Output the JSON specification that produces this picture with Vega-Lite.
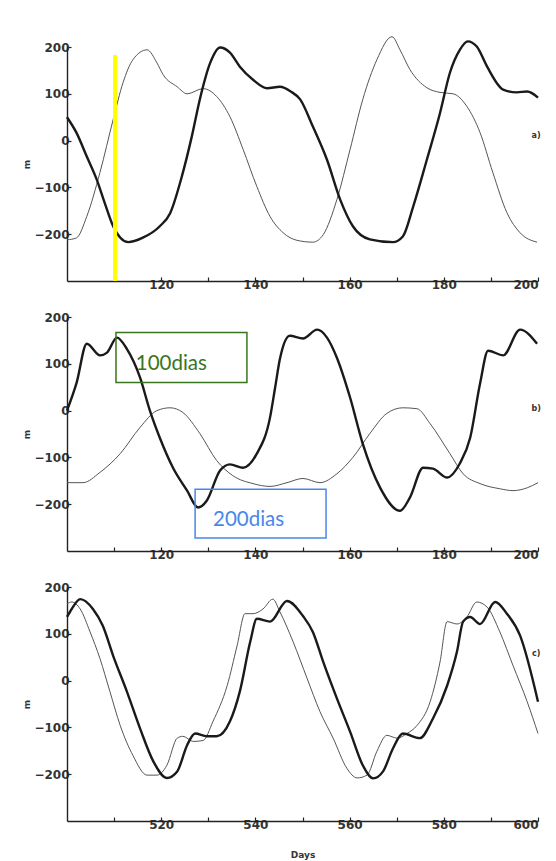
{
  "$schema": "https://vega.github.io/schema/vega-lite/v6.json",
  "padding": {"left": 22, "top": 34, "right": 5, "bottom": 5},
  "background": "white",
  "config": {
    "view": {"stroke": null},
    "axis": {
      "grid": false,
      "domainColor": "#222",
      "domainWidth": 1.4,
      "tickColor": "#222",
      "tickWidth": 1.2,
      "tickSize": -4,
      "labelFont": "DejaVu Sans",
      "labelFontWeight": "bold",
      "labelFontSize": 12,
      "labelColor": "#333",
      "titleFont": "DejaVu Sans",
      "titleFontWeight": "bold",
      "titleFontSize": 9,
      "titleColor": "#333"
    }
  },
  "datasets": {
    "curves": [
      {"panel":"a","series":"thick","day":100,"m":50},{"panel":"a","series":"thick","day":102,"m":17},{"panel":"a","series":"thick","day":104.2,"m":-34},{"panel":"a","series":"thick","day":106.3,"m":-83},{"panel":"a","series":"thick","day":108,"m":-133},{"panel":"a","series":"thick","day":109.8,"m":-183},{"panel":"a","series":"thick","day":113,"m":-217},{"panel":"a","series":"thick","day":116,"m":-208},{"panel":"a","series":"thick","day":119.7,"m":-183},{"panel":"a","series":"thick","day":121.9,"m":-155},{"panel":"a","series":"thick","day":124.4,"m":-76},{"panel":"a","series":"thick","day":126.5,"m":9},{"panel":"a","series":"thick","day":128.2,"m":88},{"panel":"a","series":"thick","day":130.4,"m":166},{"panel":"a","series":"thick","day":132.5,"m":199},{"panel":"a","series":"thick","day":134.6,"m":188},{"panel":"a","series":"thick","day":136.7,"m":158},{"panel":"a","series":"thick","day":139.5,"m":130},{"panel":"a","series":"thick","day":142.5,"m":112},{"panel":"a","series":"thick","day":145.2,"m":115},{"panel":"a","series":"thick","day":147.5,"m":105},{"panel":"a","series":"thick","day":149.5,"m":88},{"panel":"a","series":"thick","day":152.2,"m":30},{"panel":"a","series":"thick","day":155.2,"m":-41},{"panel":"a","series":"thick","day":158,"m":-126},{"panel":"a","series":"thick","day":160.7,"m":-183},{"panel":"a","series":"thick","day":164.3,"m":-211},{"panel":"a","series":"thick","day":169.2,"m":-217},{"panel":"a","series":"thick","day":171.3,"m":-205},{"panel":"a","series":"thick","day":173.5,"m":-141},{"panel":"a","series":"thick","day":176.4,"m":-41},{"panel":"a","series":"thick","day":179.2,"m":59},{"panel":"a","series":"thick","day":181.3,"m":145},{"panel":"a","series":"thick","day":183.4,"m":194},{"panel":"a","series":"thick","day":185.1,"m":212},{"panel":"a","series":"thick","day":187,"m":201},{"panel":"a","series":"thick","day":189.2,"m":158},{"panel":"a","series":"thick","day":192.6,"m":109},{"panel":"a","series":"thick","day":195.5,"m":103},{"panel":"a","series":"thick","day":197.7,"m":105},{"panel":"a","series":"thick","day":200,"m":92},
      {"panel":"a","series":"thin","day":100,"m":-212},{"panel":"a","series":"thin","day":102,"m":-208},{"panel":"a","series":"thin","day":104.2,"m":-162},{"panel":"a","series":"thin","day":107,"m":-68},{"panel":"a","series":"thin","day":109.8,"m":45},{"panel":"a","series":"thin","day":111.9,"m":124},{"panel":"a","series":"thin","day":114,"m":173},{"panel":"a","series":"thin","day":117,"m":194},{"panel":"a","series":"thin","day":119.1,"m":166},{"panel":"a","series":"thin","day":120.4,"m":141},{"panel":"a","series":"thin","day":123.4,"m":115},{"panel":"a","series":"thin","day":125.5,"m":100},{"panel":"a","series":"thin","day":128.9,"m":111},{"panel":"a","series":"thin","day":131.8,"m":94},{"panel":"a","series":"thin","day":134.6,"m":51},{"panel":"a","series":"thin","day":137.4,"m":-19},{"panel":"a","series":"thin","day":140.3,"m":-98},{"panel":"a","series":"thin","day":143.1,"m":-162},{"panel":"a","series":"thin","day":145.9,"m":-197},{"panel":"a","series":"thin","day":148.8,"m":-213},{"panel":"a","series":"thin","day":152.2,"m":-217},{"panel":"a","series":"thin","day":154.4,"m":-201},{"panel":"a","series":"thin","day":157.3,"m":-126},{"panel":"a","series":"thin","day":160.1,"m":-19},{"panel":"a","series":"thin","day":162.8,"m":88},{"panel":"a","series":"thin","day":165.8,"m":173},{"panel":"a","series":"thin","day":169,"m":222},{"panel":"a","series":"thin","day":170.7,"m":194},{"panel":"a","series":"thin","day":172.8,"m":152},{"panel":"a","series":"thin","day":176.4,"m":113},{"panel":"a","series":"thin","day":179.2,"m":103},{"panel":"a","series":"thin","day":182,"m":100},{"panel":"a","series":"thin","day":184.9,"m":73},{"panel":"a","series":"thin","day":187.7,"m":17},{"panel":"a","series":"thin","day":190.4,"m":-68},{"panel":"a","series":"thin","day":193.4,"m":-154},{"panel":"a","series":"thin","day":196.2,"m":-197},{"panel":"a","series":"thin","day":199.8,"m":-217},
      {"panel":"b","series":"thick","day":100,"m":0},{"panel":"b","series":"thick","day":102,"m":58},{"panel":"b","series":"thick","day":104.2,"m":143},{"panel":"b","series":"thick","day":107,"m":118},{"panel":"b","series":"thick","day":108.5,"m":124},{"panel":"b","series":"thick","day":110.6,"m":156},{"panel":"b","series":"thick","day":112.7,"m":132},{"panel":"b","series":"thick","day":115.5,"m":71},{"panel":"b","series":"thick","day":117.6,"m":0},{"panel":"b","series":"thick","day":119.7,"m":-58},{"panel":"b","series":"thick","day":122.5,"m":-122},{"panel":"b","series":"thick","day":125.5,"m":-171},{"panel":"b","series":"thick","day":127.8,"m":-207},{"panel":"b","series":"thick","day":129.7,"m":-192},{"panel":"b","series":"thick","day":132.5,"m":-128},{"panel":"b","series":"thick","day":134.6,"m":-115},{"panel":"b","series":"thick","day":137.4,"m":-122},{"panel":"b","series":"thick","day":140.3,"m":-92},{"panel":"b","series":"thick","day":143.1,"m":-15},{"panel":"b","series":"thick","day":144.2,"m":50},{"panel":"b","series":"thick","day":145.2,"m":110},{"panel":"b","series":"thick","day":147.3,"m":160},{"panel":"b","series":"thick","day":150.1,"m":154},{"panel":"b","series":"thick","day":153.1,"m":173},{"panel":"b","series":"thick","day":155.2,"m":156},{"panel":"b","series":"thick","day":157.3,"m":113},{"panel":"b","series":"thick","day":160.1,"m":28},{"panel":"b","series":"thick","day":162.8,"m":-71},{"panel":"b","series":"thick","day":166.5,"m":-165},{"panel":"b","series":"thick","day":170.7,"m":-214},{"panel":"b","series":"thick","day":172.8,"m":-186},{"panel":"b","series":"thick","day":175.6,"m":-122},{"panel":"b","series":"thick","day":177.7,"m":-124},{"panel":"b","series":"thick","day":180.7,"m":-143},{"panel":"b","series":"thick","day":183.4,"m":-113},{"panel":"b","series":"thick","day":185.6,"m":-58},{"panel":"b","series":"thick","day":187.7,"m":58},{"panel":"b","series":"thick","day":189.4,"m":128},{"panel":"b","series":"thick","day":192.6,"m":118},{"panel":"b","series":"thick","day":196.2,"m":173},{"panel":"b","series":"thick","day":199.8,"m":143},
      {"panel":"b","series":"thin","day":100,"m":-154},{"panel":"b","series":"thin","day":103.4,"m":-154},{"panel":"b","series":"thin","day":107,"m":-132},{"panel":"b","series":"thin","day":111.3,"m":-92},{"panel":"b","series":"thin","day":115.5,"m":-36},{"panel":"b","series":"thin","day":119.1,"m":0},{"panel":"b","series":"thin","day":121.9,"m":6},{"panel":"b","series":"thin","day":124.6,"m":-4},{"panel":"b","series":"thin","day":128.2,"m":-49},{"panel":"b","series":"thin","day":131.8,"m":-107},{"panel":"b","series":"thin","day":135.2,"m":-139},{"panel":"b","series":"thin","day":139.5,"m":-156},{"panel":"b","series":"thin","day":143.1,"m":-162},{"panel":"b","series":"thin","day":146.7,"m":-154},{"panel":"b","series":"thin","day":150.1,"m":-145},{"panel":"b","series":"thin","day":153.7,"m":-154},{"panel":"b","series":"thin","day":157.3,"m":-135},{"panel":"b","series":"thin","day":160.7,"m":-100},{"panel":"b","series":"thin","day":164.3,"m":-49},{"panel":"b","series":"thin","day":167.9,"m":-6},{"panel":"b","series":"thin","day":171.3,"m":6},{"panel":"b","series":"thin","day":174.3,"m":4},{"panel":"b","series":"thin","day":177.1,"m":-28},{"panel":"b","series":"thin","day":181.3,"m":-92},{"panel":"b","series":"thin","day":184.1,"m":-135},{"panel":"b","series":"thin","day":187.7,"m":-156},{"panel":"b","series":"thin","day":191.9,"m":-167},{"panel":"b","series":"thin","day":194.7,"m":-171},{"panel":"b","series":"thin","day":197.7,"m":-165},{"panel":"b","series":"thin","day":200,"m":-154},
      {"panel":"c","series":"thick","day":500,"m":136},{"panel":"c","series":"thick","day":501,"m":153},{"panel":"c","series":"thick","day":502.8,"m":174},{"panel":"c","series":"thick","day":505.5,"m":153},{"panel":"c","series":"thick","day":507.6,"m":117},{"panel":"c","series":"thick","day":509.8,"m":53},{"panel":"c","series":"thick","day":512.7,"m":-23},{"panel":"c","series":"thick","day":515.5,"m":-102},{"panel":"c","series":"thick","day":518.3,"m":-172},{"panel":"c","series":"thick","day":521.2,"m":-208},{"panel":"c","series":"thick","day":523.4,"m":-194},{"panel":"c","series":"thick","day":525.5,"m":-138},{"panel":"c","series":"thick","day":527.2,"m":-113},{"panel":"c","series":"thick","day":529.7,"m":-119},{"panel":"c","series":"thick","day":531.8,"m":-119},{"panel":"c","series":"thick","day":534.6,"m":-87},{"panel":"c","series":"thick","day":536.7,"m":-23},{"panel":"c","series":"thick","day":538.9,"m":83},{"panel":"c","series":"thick","day":540.3,"m":132},{"panel":"c","series":"thick","day":543.1,"m":126},{"panel":"c","series":"thick","day":546.7,"m":170},{"panel":"c","series":"thick","day":550.1,"m":138},{"panel":"c","series":"thick","day":552.2,"m":104},{"panel":"c","series":"thick","day":554.4,"m":40},{"panel":"c","series":"thick","day":557.3,"m":-38},{"panel":"c","series":"thick","day":560.1,"m":-109},{"panel":"c","series":"thick","day":562.8,"m":-181},{"panel":"c","series":"thick","day":565,"m":-209},{"panel":"c","series":"thick","day":567.1,"m":-194},{"panel":"c","series":"thick","day":569.2,"m":-145},{"panel":"c","series":"thick","day":571.3,"m":-113},{"panel":"c","series":"thick","day":574.9,"m":-123},{"panel":"c","series":"thick","day":577.7,"m":-81},{"panel":"c","series":"thick","day":580.7,"m":-11},{"panel":"c","series":"thick","day":582.8,"m":62},{"panel":"c","series":"thick","day":584.1,"m":126},{"panel":"c","series":"thick","day":585.6,"m":136},{"panel":"c","series":"thick","day":587.7,"m":121},{"panel":"c","series":"thick","day":590.9,"m":168},{"panel":"c","series":"thick","day":593.4,"m":143},{"panel":"c","series":"thick","day":596.2,"m":96},{"panel":"c","series":"thick","day":600,"m":-45},
      {"panel":"c","series":"thin","day":500,"m":164},{"panel":"c","series":"thin","day":501,"m":168},{"panel":"c","series":"thin","day":502.8,"m":153},{"panel":"c","series":"thin","day":504.9,"m":104},{"panel":"c","series":"thin","day":507,"m":47},{"panel":"c","series":"thin","day":509.1,"m":-23},{"panel":"c","series":"thin","day":511.3,"m":-96},{"panel":"c","series":"thin","day":514,"m":-160},{"panel":"c","series":"thin","day":517,"m":-202},{"panel":"c","series":"thin","day":519.1,"m":-202},{"panel":"c","series":"thin","day":521.2,"m":-181},{"panel":"c","series":"thin","day":523.4,"m":-123},{"panel":"c","series":"thin","day":524.6,"m":-119},{"panel":"c","series":"thin","day":526.8,"m":-130},{"panel":"c","series":"thin","day":528.9,"m":-128},{"panel":"c","series":"thin","day":531,"m":-87},{"panel":"c","series":"thin","day":534,"m":-11},{"panel":"c","series":"thin","day":536.1,"m":74},{"panel":"c","series":"thin","day":537.8,"m":143},{"panel":"c","series":"thin","day":539.5,"m":143},{"panel":"c","series":"thin","day":541.6,"m":153},{"panel":"c","series":"thin","day":543.7,"m":174},{"panel":"c","series":"thin","day":545.2,"m":147},{"panel":"c","series":"thin","day":548,"m":83},{"panel":"c","series":"thin","day":551,"m":4},{"panel":"c","series":"thin","day":553.7,"m":-66},{"panel":"c","series":"thin","day":556.5,"m":-123},{"panel":"c","series":"thin","day":559.4,"m":-187},{"panel":"c","series":"thin","day":561.6,"m":-208},{"panel":"c","series":"thin","day":563.7,"m":-202},{"panel":"c","series":"thin","day":565.8,"m":-151},{"panel":"c","series":"thin","day":567.9,"m":-117},{"panel":"c","series":"thin","day":570.1,"m":-123},{"panel":"c","series":"thin","day":572.2,"m":-113},{"panel":"c","series":"thin","day":574.3,"m":-96},{"panel":"c","series":"thin","day":577.1,"m":-45},{"panel":"c","series":"thin","day":579.2,"m":40},{"panel":"c","series":"thin","day":580.7,"m":126},{"panel":"c","series":"thin","day":582.8,"m":121},{"panel":"c","series":"thin","day":584.9,"m":136},{"panel":"c","series":"thin","day":587,"m":168},{"panel":"c","series":"thin","day":589.2,"m":157},{"panel":"c","series":"thin","day":591.9,"m":104},{"panel":"c","series":"thin","day":594.7,"m":32},{"panel":"c","series":"thin","day":597.7,"m":-45},{"panel":"c","series":"thin","day":600,"m":-113}
    ],
    "tags": [
      {"panel":"a","day":199.6,"m":9,"label":"a)"},
      {"panel":"b","day":199.6,"m":4,"label":"b)"},
      {"panel":"c","day":599.6,"m":57,"label":"c)"}
    ],
    "boxes": [
      {"label":"100dias","x":110.4,"x2":138.2,"y":167,"y2":60,"tx":114.6,"ty":99},
      {"label":"200dias","x":127.2,"x2":155,"y":-168,"y2":-272,"tx":131,"ty":-234}
    ],
    "marker": [
      {"day":110.2,"top":183,"bottom":-300}
    ]
  },
  "spacing": 36,
  "bounds": "flush",
  "vconcat": [
    {
      "width": 471, "height": 234,
      "layer": [
        {
          "data": {"name": "curves"},
          "transform": [{"filter": "datum.panel == 'a' && datum.series == 'thin'"}],
          "mark": {"type": "line", "interpolate": "monotone", "color": "#555", "strokeWidth": 1},
          "encoding": {
            "x": {"field": "day", "type": "quantitative", "scale": {"domain": [100, 200], "nice": false}, "axis": {"title": null, "values": [110,120,130,140,150,160,170,180,190,200], "labelExpr": "datum.value % 20 == 0 ? datum.label : ''"}},
            "y": {"field": "m", "type": "quantitative", "scale": {"domain": [-300, 200], "nice": false}, "axis": {"title": "m", "titlePadding": 2, "values": [-200,-100,0,100,200]}}
          }
        },
        {
          "data": {"name": "curves"},
          "transform": [{"filter": "datum.panel == 'a' && datum.series == 'thick'"}],
          "mark": {"type": "line", "interpolate": "monotone", "color": "#1a1a1a", "strokeWidth": 2.4},
          "encoding": {"x": {"field": "day", "type": "quantitative"}, "y": {"field": "m", "type": "quantitative"}}
        },
        {
          "data": {"name": "marker"},
          "mark": {"type": "rule", "color": "#ffff00", "strokeWidth": 4},
          "encoding": {"x": {"field": "day", "type": "quantitative"}, "y": {"field": "top", "type": "quantitative"}, "y2": {"field": "bottom"}}
        },
        {
          "data": {"name": "tags"},
          "transform": [{"filter": "datum.panel == 'a'"}],
          "mark": {"type": "text", "font": "DejaVu Sans", "fontWeight": "bold", "fontSize": 8, "color": "#333"},
          "encoding": {"x": {"field": "day", "type": "quantitative"}, "y": {"field": "m", "type": "quantitative"}, "text": {"field": "label"}}
        }
      ]
    },
    {
      "width": 471, "height": 234,
      "layer": [
        {
          "data": {"name": "curves"},
          "transform": [{"filter": "datum.panel == 'b' && datum.series == 'thin'"}],
          "mark": {"type": "line", "interpolate": "monotone", "color": "#555", "strokeWidth": 1},
          "encoding": {
            "x": {"field": "day", "type": "quantitative", "scale": {"domain": [100, 200], "nice": false}, "axis": {"title": null, "values": [110,120,130,140,150,160,170,180,190,200], "labelExpr": "datum.value % 20 == 0 ? datum.label : ''"}},
            "y": {"field": "m", "type": "quantitative", "scale": {"domain": [-300, 200], "nice": false}, "axis": {"title": "m", "titlePadding": 2, "values": [-200,-100,0,100,200]}}
          }
        },
        {
          "data": {"name": "curves"},
          "transform": [{"filter": "datum.panel == 'b' && datum.series == 'thick'"}],
          "mark": {"type": "line", "interpolate": "monotone", "color": "#1a1a1a", "strokeWidth": 2.4},
          "encoding": {"x": {"field": "day", "type": "quantitative"}, "y": {"field": "m", "type": "quantitative"}}
        },
        {
          "data": {"name": "boxes"},
          "mark": {"type": "rect", "filled": false, "strokeWidth": 1.5},
          "encoding": {
            "x": {"field": "x", "type": "quantitative"}, "x2": {"field": "x2"},
            "y": {"field": "y", "type": "quantitative"}, "y2": {"field": "y2"},
            "stroke": {"field": "label", "type": "nominal", "scale": {"domain": ["100dias", "200dias"], "range": ["#38761d", "#4a86e8"]}, "legend": null}
          }
        },
        {
          "data": {"name": "boxes"},
          "mark": {"type": "text", "font": "Lato", "fontSize": 20.5, "align": "left", "baseline": "middle"},
          "encoding": {
            "x": {"field": "tx", "type": "quantitative"},
            "y": {"field": "ty", "type": "quantitative"},
            "text": {"field": "label"},
            "color": {"field": "label", "type": "nominal", "scale": {"domain": ["100dias", "200dias"], "range": ["#38761d", "#4a86e8"]}, "legend": null}
          }
        },
        {
          "data": {"name": "tags"},
          "transform": [{"filter": "datum.panel == 'b'"}],
          "mark": {"type": "text", "font": "DejaVu Sans", "fontWeight": "bold", "fontSize": 8, "color": "#333"},
          "encoding": {"x": {"field": "day", "type": "quantitative"}, "y": {"field": "m", "type": "quantitative"}, "text": {"field": "label"}}
        }
      ]
    },
    {
      "width": 471, "height": 234,
      "layer": [
        {
          "data": {"name": "curves"},
          "transform": [{"filter": "datum.panel == 'c' && datum.series == 'thin'"}],
          "mark": {"type": "line", "interpolate": "monotone", "color": "#555", "strokeWidth": 1},
          "encoding": {
            "x": {"field": "day", "type": "quantitative", "scale": {"domain": [500, 600], "nice": false}, "axis": {"title": "Days", "titlePadding": 20, "values": [510,520,530,540,550,560,570,580,590,600], "labelExpr": "datum.value % 20 == 0 ? datum.label : ''"}},
            "y": {"field": "m", "type": "quantitative", "scale": {"domain": [-300, 200], "nice": false}, "axis": {"title": "m", "titlePadding": 2, "values": [-200,-100,0,100,200]}}
          }
        },
        {
          "data": {"name": "curves"},
          "transform": [{"filter": "datum.panel == 'c' && datum.series == 'thick'"}],
          "mark": {"type": "line", "interpolate": "monotone", "color": "#1a1a1a", "strokeWidth": 2.4},
          "encoding": {"x": {"field": "day", "type": "quantitative"}, "y": {"field": "m", "type": "quantitative"}}
        },
        {
          "data": {"name": "tags"},
          "transform": [{"filter": "datum.panel == 'c'"}],
          "mark": {"type": "text", "font": "DejaVu Sans", "fontWeight": "bold", "fontSize": 8, "color": "#333"},
          "encoding": {"x": {"field": "day", "type": "quantitative"}, "y": {"field": "m", "type": "quantitative"}, "text": {"field": "label"}}
        }
      ]
    }
  ]
}
